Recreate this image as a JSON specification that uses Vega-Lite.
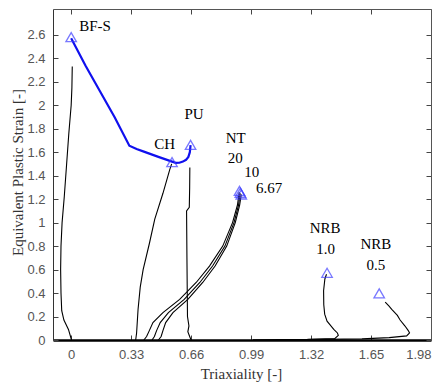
{
  "$schema": "https://vega.github.io/schema/vega-lite/v6.json",
  "width": 378,
  "height": 331,
  "autosize": {"type": "none"},
  "padding": {"left": 53, "top": 9, "right": 9, "bottom": 47},
  "background": "white",
  "config": {"view": {"stroke": null}},
  "datasets": {
    "curves": [
      {"s": "BFS", "i": 1, "x": 0.002, "y": 0},
      {"s": "BFS", "i": 2, "x": -0.015, "y": 0.09},
      {"s": "BFS", "i": 3, "x": -0.04, "y": 0.17},
      {"s": "BFS", "i": 4, "x": -0.052, "y": 0.25},
      {"s": "BFS", "i": 5, "x": -0.056, "y": 0.4},
      {"s": "BFS", "i": 6, "x": -0.058, "y": 0.6},
      {"s": "BFS", "i": 7, "x": -0.056, "y": 0.8},
      {"s": "BFS", "i": 8, "x": -0.05, "y": 1.0},
      {"s": "BFS", "i": 9, "x": -0.038, "y": 1.22},
      {"s": "BFS", "i": 10, "x": -0.025, "y": 1.5},
      {"s": "BFS", "i": 11, "x": -0.013, "y": 1.76},
      {"s": "BFS", "i": 12, "x": 0.0, "y": 2.0},
      {"s": "BFS", "i": 13, "x": 0.004, "y": 2.15},
      {"s": "BFS", "i": 14, "x": 0.006, "y": 2.33},
      {"s": "CH", "i": 1, "x": 0.355, "y": 0},
      {"s": "CH", "i": 2, "x": 0.36, "y": 0.06},
      {"s": "CH", "i": 3, "x": 0.368, "y": 0.26},
      {"s": "CH", "i": 4, "x": 0.38, "y": 0.45},
      {"s": "CH", "i": 5, "x": 0.396, "y": 0.6},
      {"s": "CH", "i": 6, "x": 0.43, "y": 0.82},
      {"s": "CH", "i": 7, "x": 0.46, "y": 1.03},
      {"s": "CH", "i": 8, "x": 0.505, "y": 1.25},
      {"s": "CH", "i": 9, "x": 0.542, "y": 1.45},
      {"s": "CH", "i": 10, "x": 0.553, "y": 1.5},
      {"s": "PU", "i": 1, "x": 0.66, "y": 0},
      {"s": "PU", "i": 2, "x": 0.652, "y": 0.03},
      {"s": "PU", "i": 3, "x": 0.642, "y": 0.07},
      {"s": "PU", "i": 4, "x": 0.648, "y": 0.12},
      {"s": "PU", "i": 5, "x": 0.64, "y": 0.2},
      {"s": "PU", "i": 6, "x": 0.637, "y": 0.7},
      {"s": "PU", "i": 7, "x": 0.635, "y": 1.1},
      {"s": "PU", "i": 8, "x": 0.65, "y": 1.13},
      {"s": "PU", "i": 9, "x": 0.652, "y": 1.3},
      {"s": "PU", "i": 10, "x": 0.653, "y": 1.47},
      {"s": "NT20", "i": 1, "x": 0.4, "y": 0},
      {"s": "NT20", "i": 2, "x": 0.415, "y": 0.03},
      {"s": "NT20", "i": 3, "x": 0.43, "y": 0.08},
      {"s": "NT20", "i": 4, "x": 0.45, "y": 0.148},
      {"s": "NT20", "i": 5, "x": 0.505, "y": 0.233},
      {"s": "NT20", "i": 6, "x": 0.597, "y": 0.346},
      {"s": "NT20", "i": 7, "x": 0.688, "y": 0.49},
      {"s": "NT20", "i": 8, "x": 0.761, "y": 0.63},
      {"s": "NT20", "i": 9, "x": 0.834, "y": 0.8},
      {"s": "NT20", "i": 10, "x": 0.888, "y": 1.0},
      {"s": "NT20", "i": 11, "x": 0.915, "y": 1.15},
      {"s": "NT20", "i": 12, "x": 0.925, "y": 1.26},
      {"s": "NT10", "i": 1, "x": 0.445, "y": 0},
      {"s": "NT10", "i": 2, "x": 0.458, "y": 0.03},
      {"s": "NT10", "i": 3, "x": 0.47, "y": 0.08},
      {"s": "NT10", "i": 4, "x": 0.49, "y": 0.148},
      {"s": "NT10", "i": 5, "x": 0.535, "y": 0.233},
      {"s": "NT10", "i": 6, "x": 0.622, "y": 0.346},
      {"s": "NT10", "i": 7, "x": 0.708, "y": 0.49},
      {"s": "NT10", "i": 8, "x": 0.778, "y": 0.63},
      {"s": "NT10", "i": 9, "x": 0.846, "y": 0.8},
      {"s": "NT10", "i": 10, "x": 0.896, "y": 1.0},
      {"s": "NT10", "i": 11, "x": 0.921, "y": 1.15},
      {"s": "NT10", "i": 12, "x": 0.93, "y": 1.25},
      {"s": "NT667", "i": 1, "x": 0.48, "y": 0},
      {"s": "NT667", "i": 2, "x": 0.495, "y": 0.03},
      {"s": "NT667", "i": 3, "x": 0.505, "y": 0.08},
      {"s": "NT667", "i": 4, "x": 0.52, "y": 0.148},
      {"s": "NT667", "i": 5, "x": 0.56, "y": 0.233},
      {"s": "NT667", "i": 6, "x": 0.642, "y": 0.346},
      {"s": "NT667", "i": 7, "x": 0.724, "y": 0.49},
      {"s": "NT667", "i": 8, "x": 0.792, "y": 0.63},
      {"s": "NT667", "i": 9, "x": 0.856, "y": 0.8},
      {"s": "NT667", "i": 10, "x": 0.903, "y": 1.0},
      {"s": "NT667", "i": 11, "x": 0.927, "y": 1.15},
      {"s": "NT667", "i": 12, "x": 0.936, "y": 1.24},
      {"s": "NRB10", "i": 1, "x": 1.0, "y": 0.002},
      {"s": "NRB10", "i": 2, "x": 1.3, "y": 0.005},
      {"s": "NRB10", "i": 3, "x": 1.45, "y": 0.012},
      {"s": "NRB10", "i": 4, "x": 1.47, "y": 0.04},
      {"s": "NRB10", "i": 5, "x": 1.465, "y": 0.06},
      {"s": "NRB10", "i": 6, "x": 1.445, "y": 0.09},
      {"s": "NRB10", "i": 7, "x": 1.408, "y": 0.16},
      {"s": "NRB10", "i": 8, "x": 1.395, "y": 0.22},
      {"s": "NRB10", "i": 9, "x": 1.39, "y": 0.3},
      {"s": "NRB10", "i": 10, "x": 1.389, "y": 0.42},
      {"s": "NRB10", "i": 11, "x": 1.396, "y": 0.52},
      {"s": "NRB10", "i": 12, "x": 1.405, "y": 0.56},
      {"s": "NRB05", "i": 1, "x": 1.3, "y": 0.003},
      {"s": "NRB05", "i": 2, "x": 1.6, "y": 0.01},
      {"s": "NRB05", "i": 3, "x": 1.75, "y": 0.02},
      {"s": "NRB05", "i": 4, "x": 1.846, "y": 0.035},
      {"s": "NRB05", "i": 5, "x": 1.862, "y": 0.06},
      {"s": "NRB05", "i": 6, "x": 1.855, "y": 0.08},
      {"s": "NRB05", "i": 7, "x": 1.837, "y": 0.119},
      {"s": "NRB05", "i": 8, "x": 1.81, "y": 0.17},
      {"s": "NRB05", "i": 9, "x": 1.795, "y": 0.21},
      {"s": "NRB05", "i": 10, "x": 1.764, "y": 0.261},
      {"s": "NRB05", "i": 11, "x": 1.748, "y": 0.29},
      {"s": "NRB05", "i": 12, "x": 1.728, "y": 0.323}
    ],
    "locus": [
      {"i": 1, "x": 0.0, "y": 2.57},
      {"i": 2, "x": 0.08, "y": 2.335},
      {"i": 3, "x": 0.16, "y": 2.115},
      {"i": 4, "x": 0.24, "y": 1.895},
      {"i": 5, "x": 0.32, "y": 1.655},
      {"i": 6, "x": 0.36, "y": 1.628},
      {"i": 7, "x": 0.4, "y": 1.605},
      {"i": 8, "x": 0.48, "y": 1.56},
      {"i": 9, "x": 0.555, "y": 1.52},
      {"i": 10, "x": 0.575, "y": 1.509},
      {"i": 11, "x": 0.595, "y": 1.51},
      {"i": 12, "x": 0.615, "y": 1.52},
      {"i": 13, "x": 0.632, "y": 1.535},
      {"i": 14, "x": 0.645, "y": 1.56},
      {"i": 15, "x": 0.653, "y": 1.6},
      {"i": 16, "x": 0.657, "y": 1.66}
    ],
    "markers": [
      {"x": 0.0, "y": 2.58},
      {"x": 0.555, "y": 1.515},
      {"x": 0.657, "y": 1.662},
      {"x": 0.926, "y": 1.27},
      {"x": 0.931, "y": 1.255},
      {"x": 0.936, "y": 1.24},
      {"x": 1.408, "y": 0.573},
      {"x": 1.695, "y": 0.397}
    ],
    "labels": [
      {"t": "BF-S", "x": 0.131, "y": 2.676},
      {"t": "PU", "x": 0.676, "y": 1.928},
      {"t": "CH", "x": 0.515, "y": 1.673},
      {"t": "NT", "x": 0.905, "y": 1.718},
      {"t": "20", "x": 0.903, "y": 1.548},
      {"t": "10", "x": 0.994, "y": 1.432},
      {"t": "6.67", "x": 1.089, "y": 1.296},
      {"t": "NRB", "x": 1.397, "y": 0.956},
      {"t": "1.0", "x": 1.4, "y": 0.777},
      {"t": "NRB", "x": 1.677, "y": 0.822},
      {"t": "0.5", "x": 1.677, "y": 0.641}
    ]
  },
  "resolve": {"axis": {"x": "independent", "y": "independent"}},
  "layer": [
    {
      "data": {"name": "curves"},
      "mark": {"type": "line", "color": "black", "strokeWidth": 1.1, "interpolate": "linear"},
      "encoding": {
        "x": {
          "field": "x", "type": "quantitative",
          "scale": {"domain": [-0.1, 1.98], "nice": false, "zero": false},
          "axis": {
            "orient": "bottom",
            "values": [0, 0.33, 0.66, 0.99, 1.32, 1.65, 1.98],
            "format": ".2~f",
            "grid": false,
            "title": "Triaxiality [-]",
            "titleFont": "Liberation Serif", "titleFontSize": 15, "titleFontWeight": "normal", "titleColor": "#333",
            "titleX": 188, "titleY": 33, "titleAlign": "center", "titleBaseline": "middle",
            "labelFont": "Liberation Sans", "labelFontSize": 13, "labelColor": "#555",
            "tickSize": -5, "tickColor": "#444", "labelPadding": 13,
            "domainColor": "black", "domainWidth": 2.5
          }
        },
        "y": {
          "field": "y", "type": "quantitative",
          "scale": {"domain": [0, 2.82], "nice": false, "zero": false},
          "axis": {
            "orient": "left",
            "values": [0, 0.2, 0.4, 0.6, 0.8, 1, 1.2, 1.4, 1.6, 1.8, 2, 2.2, 2.4, 2.6],
            "format": ".2~f",
            "grid": false,
            "title": "Equivalent Plastic Strain [-]",
            "titleFont": "Liberation Serif", "titleFontSize": 15, "titleFontWeight": "normal", "titleColor": "#333",
            "titleX": -36, "titleY": 163, "titleAlign": "center", "titleBaseline": "middle", "titleAngle": -90,
            "labelFont": "Liberation Sans", "labelFontSize": 13, "labelColor": "#555",
            "tickSize": -5, "tickColor": "#444", "labelPadding": 13,
            "domainColor": "#333", "domainWidth": 1
          }
        },
        "detail": {"field": "s"},
        "order": {"field": "i", "type": "quantitative"}
      }
    },
    {
      "data": {"name": "locus"},
      "mark": {"type": "line", "color": "#1010ee", "strokeWidth": 2.2, "interpolate": "linear"},
      "encoding": {
        "x": {"field": "x", "type": "quantitative", "axis": null},
        "y": {"field": "y", "type": "quantitative", "axis": null},
        "order": {"field": "i", "type": "quantitative"}
      }
    },
    {
      "data": {"name": "markers"},
      "mark": {"type": "point", "shape": "triangle-up", "filled": false, "color": "#3f3fff", "size": 110, "strokeWidth": 1.3},
      "encoding": {
        "x": {
          "field": "x", "type": "quantitative",
          "axis": {"orient": "top", "values": [0, 0.33, 0.66, 0.99, 1.32, 1.65, 1.98], "labels": false, "title": null, "grid": false,
            "tickSize": -5, "tickColor": "#444", "domainColor": "#555", "domainWidth": 1}
        },
        "y": {
          "field": "y", "type": "quantitative",
          "axis": {"orient": "right", "values": [0, 0.2, 0.4, 0.6, 0.8, 1, 1.2, 1.4, 1.6, 1.8, 2, 2.2, 2.4, 2.6], "labels": false, "title": null, "grid": false,
            "tickSize": -5, "tickColor": "#444", "domainColor": "#555", "domainWidth": 1}
        }
      }
    },
    {
      "data": {"name": "labels"},
      "mark": {"type": "text", "font": "Liberation Serif", "fontSize": 15, "color": "black", "align": "center", "baseline": "middle"},
      "encoding": {
        "x": {"field": "x", "type": "quantitative", "axis": null},
        "y": {"field": "y", "type": "quantitative", "axis": null},
        "text": {"field": "t"}
      }
    }
  ]
}
